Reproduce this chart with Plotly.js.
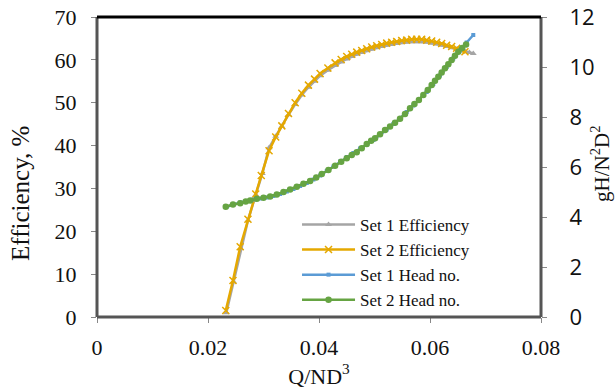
<!DOCTYPE html>
<html><head><meta charset="utf-8">
<script src="https://cdn.plot.ly/plotly-3.0.1.min.js"></script>
<style>html,body{margin:0;padding:0;background:#fff}#c{width:616px;height:391px}</style>
</head><body><div id="c"></div>
<script>
// Set 1 Efficiency (grey triangles)
const q1Eff = [0.0233,0.0246,0.0259,0.0272,0.0286,0.0298,0.0310,0.0322,0.0333,0.0345,0.0357,0.0369,0.0381,0.0392,0.0402,0.0416,0.0429,0.0440,0.0450,0.0459,0.0468,0.0477,0.0486,0.0495,0.0504,0.0513,0.0522,0.0531,0.0540,0.0549,0.0558,0.0567,0.0576,0.0585,0.0594,0.0603,0.0612,0.0621,0.0630,0.0639,0.0648,0.0656,0.0664,0.0671,0.0678];
const eff1 = [1.0,8.2,16.0,22.5,28.5,33.5,39.5,42.2,44.5,47.2,49.6,51.8,53.6,55.0,56.3,57.6,58.7,59.5,60.2,60.8,61.3,61.7,62.1,62.5,62.8,63.1,63.4,63.6,63.8,64.0,64.1,64.2,64.2,64.2,64.1,63.9,63.7,63.4,63.1,62.8,62.5,62.2,61.9,61.7,61.5];
// Set 2 Efficiency (gold crosses)
const q2Eff = [0.0232,0.0245,0.0258,0.0272,0.0286,0.0296,0.0310,0.0322,0.0333,0.0345,0.0357,0.0369,0.0381,0.0392,0.0402,0.0416,0.0429,0.0440,0.0450,0.0459,0.0468,0.0477,0.0486,0.0495,0.0504,0.0513,0.0522,0.0531,0.0540,0.0549,0.0558,0.0567,0.0576,0.0585,0.0594,0.0603,0.0612,0.0621,0.0630,0.0639,0.0648,0.0656,0.0663];
const eff2 = [1.5,8.5,16.4,22.8,28.7,33.0,38.8,42.0,44.6,47.5,50.0,52.2,54.1,55.5,56.8,58.1,59.3,60.1,60.8,61.3,61.8,62.2,62.6,63.0,63.3,63.6,63.9,64.1,64.3,64.5,64.6,64.8,64.8,64.8,64.6,64.4,64.1,63.8,63.4,63.1,62.7,62.3,61.9];
// Set 1 Head no. (blue)
const q1Head = [0.0233,0.0245,0.0258,0.0270,0.0282,0.0294,0.0306,0.0318,0.0330,0.0342,0.0354,0.0366,0.0378,0.0390,0.0402,0.0414,0.0426,0.0438,0.0450,0.0462,0.0474,0.0486,0.0498,0.0510,0.0522,0.0534,0.0546,0.0558,0.0570,0.0582,0.0594,0.0606,0.0618,0.0630,0.0642,0.0654,0.0666,0.0678];
const head1 = [4.40,4.50,4.58,4.64,4.70,4.74,4.78,4.84,4.92,5.02,5.12,5.24,5.36,5.50,5.66,5.84,6.02,6.22,6.40,6.56,6.74,6.90,7.08,7.28,7.50,7.72,7.94,8.20,8.46,8.72,9.00,9.32,9.66,10.00,10.34,10.66,10.98,11.28];
// Set 2 Head no. (green circles)
const q2Head = [0.0232,0.0245,0.0258,0.0268,0.0276,0.0288,0.0300,0.0312,0.0324,0.0336,0.0348,0.0360,0.0372,0.0384,0.0395,0.0405,0.0417,0.0429,0.0440,0.0450,0.0459,0.0468,0.0477,0.0486,0.0494,0.0501,0.0510,0.0519,0.0528,0.0537,0.0546,0.0555,0.0564,0.0572,0.0580,0.0588,0.0596,0.0603,0.0609,0.0615,0.0621,0.0627,0.0633,0.0639,0.0645,0.0651,0.0658,0.0665];
const head2 = [4.41,4.50,4.55,4.62,4.66,4.73,4.77,4.82,4.90,5.00,5.10,5.21,5.33,5.44,5.58,5.72,5.88,6.05,6.21,6.35,6.48,6.59,6.75,6.92,7.05,7.15,7.31,7.48,7.62,7.77,7.93,8.12,8.35,8.52,8.68,8.88,9.08,9.28,9.45,9.61,9.78,9.95,10.11,10.28,10.45,10.61,10.76,10.90];
const xTicks = [0,0.02,0.04,0.06,0.08];
const xTickText = ['0','0.02','0.04','0.06','0.08'];
const yTitle = 'Efficiency, %';
const y2Title = 'gH/N<sup>2</sup>D<sup>2</sup>';

const gray='#A5A5A5', gold='#E5A800', blue='#5B9BD5', green='#66A443';
const traces = [
  {x:q1Eff, y:eff1, name:'Set 1 Efficiency', mode:'lines+markers', line:{color:gray,width:2.5}, marker:{symbol:'triangle-up',size:6,color:gray}},
  {x:q2Eff, y:eff2, name:'Set 2 Efficiency', mode:'lines+markers', line:{color:gold,width:2.5}, marker:{symbol:'x-thin-open',size:7,color:gold,line:{color:gold,width:1.5}}},
  {x:q1Head, y:head1, name:'Set 1 Head no.', yaxis:'y2', mode:'lines+markers', line:{color:blue,width:2.5}, marker:{symbol:'square',size:4,color:blue}},
  {x:q2Head, y:head2, name:'Set 2 Head no.', yaxis:'y2', mode:'lines+markers', line:{color:green,width:2.5}, marker:{symbol:'circle',size:6.5,color:green}}
];
const serif='"Liberation Serif", "Times New Roman", serif';
const ink='#111';
const layout = {
  width:616, height:391,
  margin:{l:97, r:75, t:17, b:74},
  paper_bgcolor:'#fff', plot_bgcolor:'#fff',
  showlegend:true,
  legend:{x:0.4505, y:0.367, xanchor:'left', yanchor:'top', bgcolor:'rgba(0,0,0,0)', font:{family:serif,size:17,color:ink}, tracegroupgap:0, itemwidth:53},
  xaxis:{range:[0,0.08], tickvals:xTicks, ticktext:xTickText, showgrid:false, zeroline:false, showline:false,
         ticks:'outside', ticklen:5, tickcolor:'#888', ticklabelstandoff:6, tickfont:{family:serif,size:22,color:ink},
         title:{text:'Q/ND<sup>3</sup>', font:{family:serif,size:22,color:ink}, standoff:4}},
  yaxis:{range:[0,70], dtick:10, showgrid:false, zeroline:false, showline:false, ticks:'outside', ticklen:5, tickcolor:'#888', ticklabelstandoff:10,
         tickfont:{family:serif,size:22,color:ink}},
  yaxis2:{range:[0,12], dtick:2, overlaying:'y', side:'right', showgrid:false, zeroline:false, showline:false, ticks:'outside', ticklen:5, tickcolor:'#888', ticklabelstandoff:18,
         tickfont:{family:'"Open Sans", sans-serif',size:22,color:ink}},
  annotations:[
    {text:yTitle, xref:'paper', yref:'paper', x:(20-97)/444, y:(317-194)/300, xanchor:'center', yanchor:'middle', textangle:-90, showarrow:false, font:{family:serif,size:25,color:ink}},
    {text:y2Title, xref:'paper', yref:'paper', x:(600-97)/444, y:(317-164)/300, xanchor:'center', yanchor:'middle', textangle:-90, showarrow:false, font:{family:serif,size:21,color:ink}}
  ],
  shapes:[
    {type:'line', xref:'paper', yref:'paper', x0:0, x1:0, y0:0, y1:1, line:{color:'#555',width:3}},
    {type:'line', xref:'paper', yref:'paper', x0:1, x1:1, y0:0, y1:1, line:{color:'#555',width:3}},
    {type:'line', xref:'paper', yref:'paper', x0:0, x1:1, y0:0, y1:0, line:{color:'#555',width:3}},
    {type:'line', xref:'paper', yref:'paper', x0:0, x1:1, y0:1, y1:1, line:{color:'#000',width:3}}
  ]
};
Plotly.newPlot('c', traces, layout, {displayModeBar:false, staticPlot:true});
</script></body></html>
